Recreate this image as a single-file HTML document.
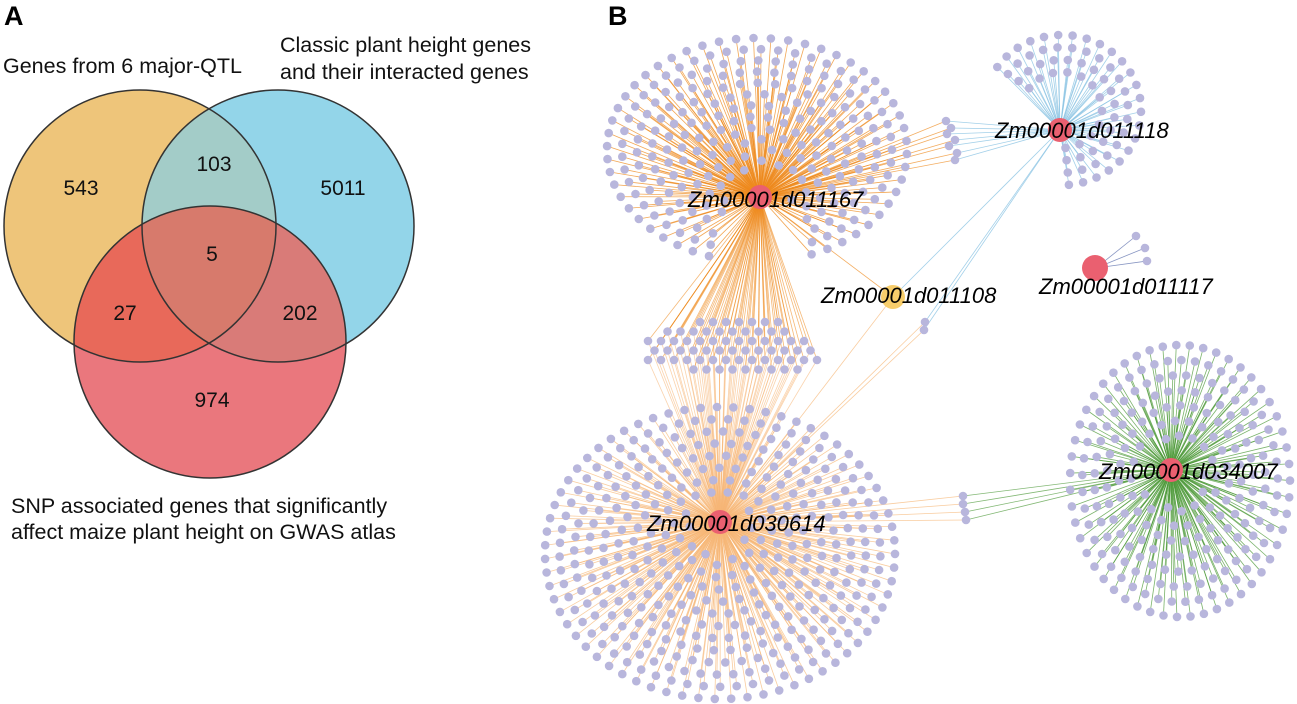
<!DOCTYPE html>
<html><head><meta charset="utf-8"><style>
html,body{margin:0;padding:0;background:#fff;width:1297px;height:704px;overflow:hidden}
svg{display:block}
text{font-family:"Liberation Sans",Arial,sans-serif}
</style></head><body>
<svg id="s" width="1297" height="704" viewBox="0 0 1297 704" xmlns="http://www.w3.org/2000/svg">
<defs>
<clipPath id="cO"><circle cx="140" cy="226" r="136"/></clipPath>
<clipPath id="cB"><circle cx="278" cy="226" r="136"/></clipPath>
<clipPath id="cR"><circle cx="210" cy="342" r="136"/></clipPath>
</defs>
<circle cx="140" cy="226" r="136" fill="#EEC57A"/>
<circle cx="278" cy="226" r="136" fill="#93D5E9"/>
<g clip-path="url(#cO)"><circle cx="278" cy="226" r="136" fill="#A3CCC8"/></g>
<circle cx="210" cy="342" r="136" fill="#EA777D"/>
<g clip-path="url(#cR)"><circle cx="140" cy="226" r="136" fill="#E8695A"/><circle cx="278" cy="226" r="136" fill="#D97B78"/>
<g clip-path="url(#cO)"><circle cx="278" cy="226" r="136" fill="#D77A6C"/></g></g>
<g fill="none" stroke="#333" stroke-width="1.5">
<circle cx="140" cy="226" r="136"/><circle cx="278" cy="226" r="136"/><circle cx="210" cy="342" r="136"/></g>
<g font-size="21" fill="#111" text-anchor="middle">
<text x="81" y="195">543</text><text x="214" y="171">103</text><text x="343" y="195">5011</text>
<text x="212" y="261">5</text><text x="125" y="320">27</text><text x="300" y="320">202</text><text x="212" y="407">974</text>
</g>
<g font-size="21.5" fill="#111">
<text x="3" y="73">Genes from 6 major-QTL</text>
<text x="280" y="52">Classic plant height genes</text>
<text x="280" y="79">and their interacted genes</text>
<text x="11" y="513">SNP associated genes that significantly</text>
<text x="11" y="539">affect maize plant height on GWAS atlas</text>
</g>
<text x="4" y="25" font-size="27" font-weight="bold">A</text>
<text x="608" y="25" font-size="27" font-weight="bold">B</text>
<g id="edges"></g><g id="dots" fill="#B8B6DC"></g><g id="hubs"></g>
<g font-size="22" font-style="italic" fill="#000" id="labels">
<text x="688" y="207">Zm00001d011167</text>
<text x="821" y="303">Zm00001d011108</text>
<text x="995" y="138">Zm00001d011118</text>
<text x="1039" y="294">Zm00001d011117</text>
<text x="647" y="531">Zm00001d030614</text>
<text x="1099" y="479">Zm00001d034007</text>
</g>
</svg>
<script>
var NS="http://www.w3.org/2000/svg",E=document.getElementById("edges"),D=document.getElementById("dots"),H=document.getElementById("hubs");
var seed=7;function rnd(){seed=(seed*16807)%2147483647;return seed/2147483647;}
function line(x1,y1,x2,y2,c,o){var l=document.createElementNS(NS,"line");l.setAttribute("x1",x1);l.setAttribute("y1",y1);l.setAttribute("x2",x2);l.setAttribute("y2",y2);l.setAttribute("stroke",c);l.setAttribute("stroke-width","0.8");l.setAttribute("stroke-opacity",o);E.appendChild(l);}
function dot(x,y,r,f){var c=document.createElementNS(NS,"circle");c.setAttribute("cx",x.toFixed(1));c.setAttribute("cy",y.toFixed(1));c.setAttribute("r",r||4.3);if(f)c.setAttribute("fill",f);(f?H:D).appendChild(c);}
function cluster(cx,cy,rx,ry,hx,hy,col,op,skip){
 var K=Math.round(Math.max(rx,ry)/14.5);
 for(var k=1;k<=K;k++){var f=k/K;var ax=rx*f,ay=ry*f;
  var per=Math.PI*(ax+ay);var n=Math.floor(per/15);var off=rnd()*6.28;
  for(var i=0;i<n;i++){var a=off+i*6.2832/n;var x=cx+ax*Math.cos(a),y=cy+ay*Math.sin(a);
   var dx=x-hx,dy=y-hy;if(Math.sqrt(dx*dx+dy*dy)<30)continue;if(skip&&skip(x,y))continue;
   line(hx,hy,x,y,col,op);dot(x,y);}}}
cluster(757,150,150,112,760,197,"#EE8A1E",0.75,function(x,y){return (y>212&&Math.abs(x-760)<45)||(y>262);});
cluster(720,553,175,146,720,522,"#F6B676",0.7,null);
cluster(1180,481,110,136,1171,470,"#4E9A3A",0.75,null);
(function(){for(var k=0;k<4;k++){var r=40+k*13;var n=Math.floor(r*4.0/14);for(var i=0;i<=n;i++){var a=(-145+i*(230/n))*Math.PI/180;var x=1062+r*Math.cos(a),y=110+r*Math.sin(a)*0.95;line(1060,130,x,y,"#8CC4E4",0.8);dot(x,y);}}})();
(function(){var pts=[];var row=0;for(var y=322;y<=370;y+=9.5,row++)for(var x=648;x<=825;x+=13){var xx=x+(row%2)*6.5;var t=(y-318)/54;var lo=700-52*Math.min(1,t*2.5),hi=780+42*Math.min(1,t*1.6);if(y>360){lo=690;hi=810;}if(xx<lo||xx>hi)continue;pts.push([xx,y]);}
pts.forEach(function(p){line(760,197,p[0],p[1],"#EE8A1E",0.6);line(720,522,p[0],p[1],"#F6B676",0.6);dot(p[0],p[1]);});})();
[[946,121],[951,128],[947,134],[955,140],[949,146],[957,153],[955,160]].forEach(function(p){line(760,197,p[0],p[1],"#EE8A1E",0.7);line(1060,130,p[0],p[1],"#8CC4E4",0.8);dot(p[0],p[1]);});
line(760,197,893,297,"#EE8A1E",0.7);line(893,297,1060,130,"#8CC4E4",0.8);line(893,297,720,522,"#F6B676",0.7);
[[925,322],[924,330]].forEach(function(p){line(1060,130,p[0],p[1],"#8CC4E4",0.8);line(720,522,p[0],p[1],"#F6B676",0.7);dot(p[0],p[1]);});
[[963,496],[963,504],[965,512],[966,520]].forEach(function(p){line(1171,470,p[0],p[1],"#4E9A3A",0.7);line(720,522,p[0],p[1],"#F6B676",0.7);dot(p[0],p[1]);});
[[1136,236],[1145,248],[1147,261]].forEach(function(p){line(1096,268,p[0],p[1],"#7A8ABB",0.9);dot(p[0],p[1]);});
dot(893,297,12,"#F7CD6B");dot(760,197,12,"#EA6070");dot(720,522,12,"#EA6070");dot(1171,470,12,"#EA6070");dot(1060,130,12,"#EA6070");dot(1095,268,13,"#EA6070");
</script>
</body></html>
